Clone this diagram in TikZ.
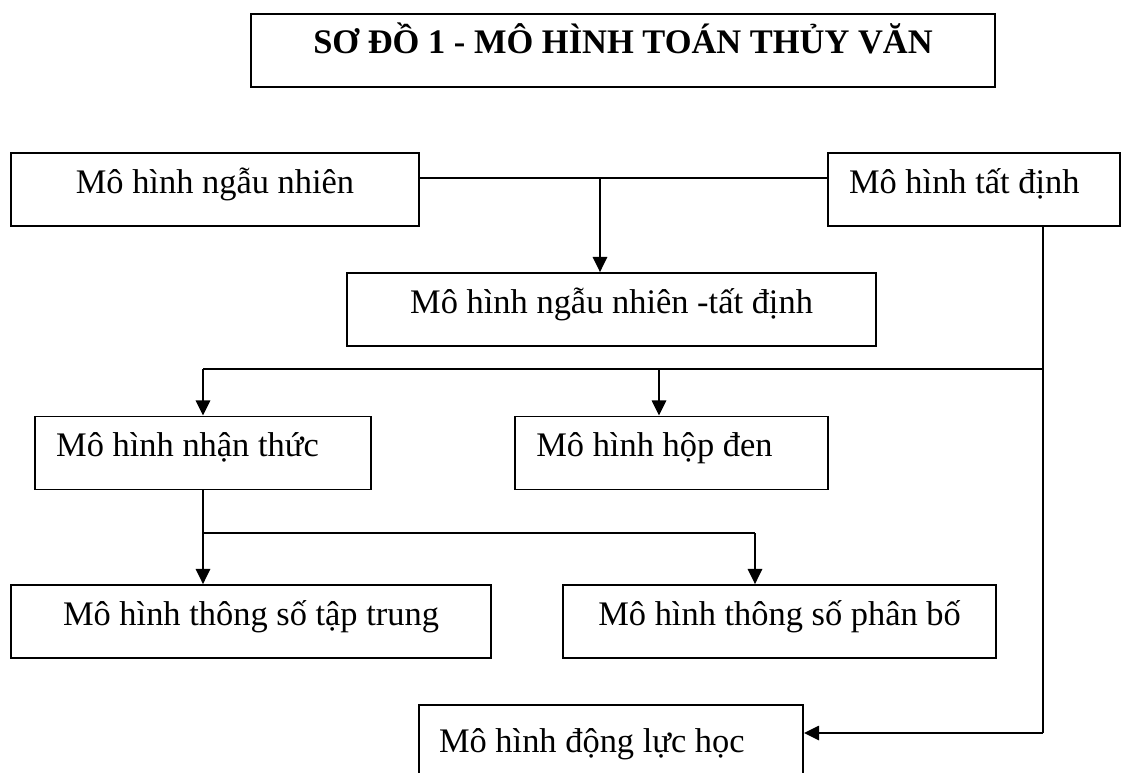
\documentclass[tikz,border=0pt]{standalone}
\usepackage{fontspec}
\setmainfont{Liberation Serif}
\usetikzlibrary{arrows.meta}

\tikzset{
  box/.style={draw, line width=1.4pt, minimum height=1.825cm, inner xsep=0.53cm, inner ysep=0pt,
    text height=0.75em, text depth=0.25em},
  lbox/.style={box, align=flush left},
  arr/.style={-{Triangle[length=0.38cm,width=0.36cm]}},
}

\begin{document}
\begin{tikzpicture}[line width=1.4pt, font=\fontsize{24.5pt}{29pt}\selectfont]

  \useasboundingbox (0,0) rectangle (28.2,19.3);

  \node[box, minimum width=18.6cm, font=\fontsize{24.5pt}{29pt}\selectfont\bfseries] (title) at (15.575,18.04) {SƠ ĐỒ 1 - MÔ HÌNH TOÁN THỦY VĂN};

  \node[box, minimum width=10.2cm] (random) at (5.375,14.56) {Mô hình ngẫu nhiên};
  \node[lbox, text width=6.25cm] (determ) at (24.35,14.56) {Mô hình tất định};
  \node[box, minimum width=13.225cm] (mixed) at (15.29,11.56) {Mô hình ngẫu nhiên -tất định};

  \node[lbox, text width=7.34cm] (concept) at (5.075,7.975) {Mô hình nhận thức};
  \node[lbox, text width=6.765cm] (blackbox) at (16.79,7.975) {Mô hình hộp đen};

  \node[box, minimum width=12cm] (lumped) at (6.275,3.76) {Mô hình thông số tập trung};
  \node[box, minimum width=10.825cm] (distrib) at (19.49,3.76) {Mô hình thông số phân bố};

  \node[lbox, text width=8.6cm, inner xsep=0.5cm, minimum height=2.2cm] (dynamic) at (15.275,0.575) {Mô hình động lực học};

  \coordinate (top) at (15.0,14.85);
  \coordinate (mid) at (26.075,10.075);
  \coordinate (hopden) at (16.475,10.075);
  \coordinate (bot) at (18.875,5.975);
  \coordinate (dyn) at (26.075,0.975);

  \draw (top -| random.east) -- (top -| determ.west);
  \draw[arr] (top) -- (top |- mixed.north);

  \draw (mid |- determ.south) -- (dyn);
  \draw[arr] (dyn) -- (dyn -| dynamic.east);

  \draw (concept.north |- mid) -- (mid);
  \draw[arr] (concept.north |- mid) -- (concept.north);
  \draw[arr] (hopden) -- (hopden |- blackbox.north);

  \draw[arr] (concept.south) -- (concept.south |- lumped.north);
  \draw (concept.south |- bot) -- (bot);
  \draw[arr] (bot) -- (bot |- distrib.north);

\end{tikzpicture}
\end{document}
